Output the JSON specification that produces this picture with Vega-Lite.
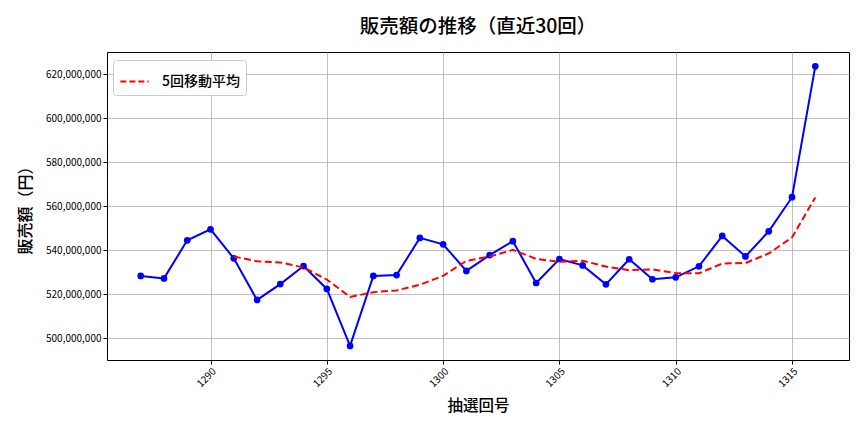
{
  "$schema": "https://vega.github.io/schema/vega-lite/v6.json",
  "width": 742,
  "height": 308,
  "autosize": {"type": "none"},
  "padding": {"left": 107, "top": 52, "right": 15, "bottom": 72},
  "title": {"text": "販売額の推移（直近30回）", "font": "Noto Sans CJK JP", "fontSize": 19.5, "fontWeight": 500, "color": "#000000", "offset": 15},
  "config": {
    "font": "Noto Sans CJK JP",
    "view": {"stroke": "#000000", "strokeWidth": 1},
    "axis": {"gridColor": "#b0b0b0", "gridWidth": 0.8, "domain": false, "tickColor": "#000000", "labelColor": "#000000", "titleColor": "#000000", "labelFont": "Noto Sans CJK JP", "titleFont": "Noto Sans CJK JP", "titleFontWeight": 500, "titleFontSize": 15.5, "labelFontSize": 10, "tickSize": 4}
  },
  "data": {"values": [
    {"draw": 1287, "sales": 528200000, "ma": null},
    {"draw": 1288, "sales": 527100000, "ma": null},
    {"draw": 1289, "sales": 544400000, "ma": null},
    {"draw": 1290, "sales": 549400000, "ma": null},
    {"draw": 1291, "sales": 536200000, "ma": 537060000},
    {"draw": 1292, "sales": 517300000, "ma": 534880000},
    {"draw": 1293, "sales": 524500000, "ma": 534360000},
    {"draw": 1294, "sales": 532700000, "ma": 532020000},
    {"draw": 1295, "sales": 522300000, "ma": 526600000},
    {"draw": 1296, "sales": 496400000, "ma": 518640000},
    {"draw": 1297, "sales": 528200000, "ma": 520820000},
    {"draw": 1298, "sales": 528600000, "ma": 521640000},
    {"draw": 1299, "sales": 545500000, "ma": 524200000},
    {"draw": 1300, "sales": 542600000, "ma": 528260000},
    {"draw": 1301, "sales": 530500000, "ma": 535080000},
    {"draw": 1302, "sales": 537700000, "ma": 536980000},
    {"draw": 1303, "sales": 544000000, "ma": 540060000},
    {"draw": 1304, "sales": 525000000, "ma": 535960000},
    {"draw": 1305, "sales": 535900000, "ma": 534620000},
    {"draw": 1306, "sales": 533000000, "ma": 535120000},
    {"draw": 1307, "sales": 524400000, "ma": 532460000},
    {"draw": 1308, "sales": 535800000, "ma": 530820000},
    {"draw": 1309, "sales": 526700000, "ma": 531160000},
    {"draw": 1310, "sales": 527600000, "ma": 529500000},
    {"draw": 1311, "sales": 532600000, "ma": 529420000},
    {"draw": 1312, "sales": 546400000, "ma": 533820000},
    {"draw": 1313, "sales": 537100000, "ma": 534080000},
    {"draw": 1314, "sales": 548500000, "ma": 538440000},
    {"draw": 1315, "sales": 564000000, "ma": 545720000},
    {"draw": 1316, "sales": 623500000, "ma": 563900000}
  ]},
  "encoding": {
    "x": {"field": "draw", "type": "quantitative", "title": "抽選回号",
      "scale": {"domain": [1285.55, 1317.45], "nice": false, "zero": false},
      "axis": {"values": [1290, 1295, 1300, 1305, 1310, 1315], "labelAngle": -45, "format": "d", "titlePadding": 10, "labelPadding": 2}}
  },
  "layer": [
    {
      "mark": {"type": "line", "color": "#0000ff", "strokeWidth": 2, "point": {"filled": true, "size": 45, "color": "#0000ff"}},
      "encoding": {
        "y": {"field": "sales", "type": "quantitative", "title": "販売額（円）",
          "scale": {"domain": [490000000, 630000000], "nice": false, "zero": false},
          "axis": {"values": [500000000, 520000000, 540000000, 560000000, 580000000, 600000000, 620000000], "format": ",d", "titlePadding": 12, "titleFontSize": 16}}
      }
    },
    {
      "transform": [{"filter": "datum.ma != null"}],
      "mark": {"type": "line", "strokeWidth": 2, "strokeDash": [7, 3.5]},
      "encoding": {
        "y": {"field": "ma", "type": "quantitative"},
        "color": {"datum": "5回移動平均", "type": "nominal",
          "scale": {"domain": ["5回移動平均"], "range": ["#ff0000"]},
          "legend": {"title": null, "orient": "none", "legendX": 6, "legendY": 8, "labelFontSize": 14, "labelFontWeight": 500, "labelFont": "Noto Sans CJK JP", "labelColor": "#000000", "labelOffset": 12, "symbolType": "stroke", "symbolStrokeWidth": 2, "symbolSize": 800, "symbolDash": [6, 3], "fillColor": "#ffffff", "strokeColor": "#cccccc", "cornerRadius": 3, "padding": 6}}
      }
    }
  ]
}
